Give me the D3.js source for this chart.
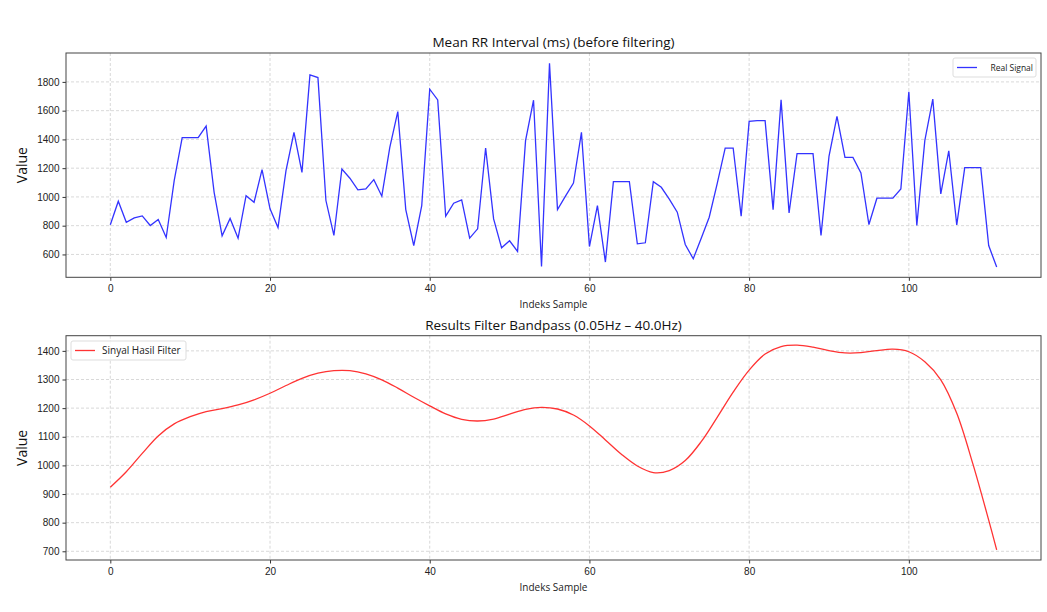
<!DOCTYPE html>
<html>
<head>
<meta charset="utf-8">
<script src="https://cdn.jsdelivr.net/npm/d3@7"></script>
<style>
  html, body { margin: 0; padding: 0; background: #fff; }
  svg { display: block; font-family: 'Open Sans', 'Noto Sans', sans-serif; }
  .grid line { stroke: #cfcfcf; stroke-dasharray: 3 2; stroke-width: 0.8; }
  .axis text { font-size: 10px; fill: #222; }
  .axis path, .axis line { stroke: #333; }
</style>
</head>
<body>
<svg id="chart" width="1047" height="612"></svg>
<script>
// raw mean RR intervals (ms), sample index 0..111
const rawValues = [
  806, 970, 824, 854, 868, 801, 843, 718, 1113, 1412,
  1412, 1412, 1493, 1032, 729, 850, 713, 1009, 963, 1190,
  917, 787, 1183, 1449, 1171, 1849, 1830, 975, 732, 1194,
  1130, 1049, 1056, 1120, 1005, 1345, 1594, 912, 662, 940,
  1749, 1675, 866, 956, 979, 713, 778, 1340, 847, 646,
  695, 621, 1391, 1673, 517, 1930, 912, 1005, 1097, 1449,
  655, 940, 547, 1106, 1106, 1106, 674, 681, 1106, 1067,
  984, 894, 669, 570, 713, 859, 1093, 1340, 1340, 866,
  1525, 1530, 1530, 912, 1675, 889, 1301, 1301, 1301, 732,
  1282, 1560, 1275, 1275, 1167, 808, 991, 991, 991, 1056,
  1731, 801, 1391, 1680, 1021, 1321, 806, 1204, 1204, 1204,
  662, 512
]

// bandpass output at these sample indices
const filtIndex = [0, 2, 4, 6, 8, 10, 12, 14, 16, 18, 20, 22, 24, 26, 28, 30, 32, 34, 36, 38,
  40, 42, 44, 46, 48, 50, 52, 54, 56, 58, 60, 62, 64, 66, 68, 70, 72, 74, 76, 78,
  80, 82, 84, 86, 88, 90, 92, 94, 96, 98, 100, 102, 104, 106, 108, 110, 111]
const filtValues = [924, 978, 1042, 1103, 1145, 1170, 1188, 1198, 1211, 1229, 1252, 1279, 1304, 1322, 1331, 1331, 1320, 1299, 1270, 1238,
  1208, 1180, 1161, 1155, 1162, 1179, 1196, 1203, 1197, 1176, 1138, 1089, 1039, 998, 975, 982, 1017, 1083, 1168, 1256,
  1333, 1389, 1415, 1420, 1413, 1401, 1393, 1394, 1401, 1406, 1397, 1362, 1299, 1182, 1007, 809, 705]

const xTicks = [0, 20, 40, 60, 80, 100]
const rawTicks = [600, 800, 1000, 1200, 1400, 1600, 1800]
const filtTicks = [700, 800, 900, 1000, 1100, 1200, 1300, 1400]

const svg = d3.select('#chart')
const left = 66
const right = 1041

function panel(opts) {
  const { top, bottom, domainY, ticks, title, data, color, legend, legendRight, curve } = opts
  const x = d3.scaleLinear().domain([-5.55, 116.55]).range([left, right])
  const y = d3.scaleLinear().domain(domainY).range([bottom, top])
  const g = svg.append('g')

  // grid
  const grid = g.append('g').attr('class', 'grid')
  grid.selectAll('.gx').data(xTicks).join('line').attr('class', 'gx')
    .attr('x1', (d) => x(d)).attr('x2', (d) => x(d)).attr('y1', top).attr('y2', bottom)
  grid.selectAll('.gy').data(ticks).join('line').attr('class', 'gy')
    .attr('x1', left).attr('x2', right).attr('y1', (d) => y(d)).attr('y2', (d) => y(d))

  // axes
  g.append('g').attr('class', 'axis').attr('transform', `translate(0,${bottom})`)
    .call(d3.axisBottom(x).tickValues(xTicks).tickFormat(d3.format('d')).tickSize(3.5).tickPadding(4))
    .call((a) => a.select('.domain').remove())
  g.append('g').attr('class', 'axis').attr('transform', `translate(${left},0)`)
    .call(d3.axisLeft(y).tickValues(ticks).tickFormat(d3.format('d')).tickSize(3.5).tickPadding(3))
    .call((a) => a.select('.domain').remove())

  // line
  const line = d3.line().x((d) => x(d[0])).y((d) => y(d[1])).curve(curve)
  g.append('path').datum(data).attr('fill', 'none').attr('stroke', color)
    .attr('stroke-width', 1.3).attr('d', line)

  // frame
  g.append('rect').attr('x', left).attr('y', top).attr('width', right - left).attr('height', bottom - top)
    .attr('fill', 'none').attr('stroke', '#444').attr('stroke-width', 1)

  // titles
  g.append('text').attr('x', (left + right) / 2).attr('y', top - 6).attr('text-anchor', 'middle')
    .attr('font-size', 13.5).attr('fill', '#111').text(title)
  g.append('text').attr('x', (left + right) / 2).attr('y', bottom + 31).attr('text-anchor', 'middle')
    .attr('font-size', 10).attr('fill', '#222').text('Indeks Sample')
  g.append('text').attr('transform', `translate(27,${(top + bottom) / 2}) rotate(-90)`)
    .attr('text-anchor', 'middle').attr('font-size', 14).attr('fill', '#111').text('Value')

  // legend
  const lg = g.append('g').attr('transform', `translate(${legend.x},${legend.y})`)
  lg.append('rect').attr('width', legend.w).attr('height', 19).attr('rx', 2)
    .attr('fill', '#fff').attr('fill-opacity', 0.85).attr('stroke', '#ddd')
  lg.append('line').attr('x1', 4).attr('x2', 24).attr('y1', 9.5).attr('y2', 9.5)
    .attr('stroke', color).attr('stroke-width', 1.3)
  lg.append('text').attr('x', legendRight ? legend.w - 3 : 31).attr('y', 13)
    .attr('text-anchor', legendRight ? 'end' : 'start')
    .attr('font-size', legend.fs).attr('fill', '#222').text(legend.label)
}

panel({
  top: 53, bottom: 277.3, domainY: [441, 2001], ticks: rawTicks,
  title: 'Mean RR Interval (ms) (before filtering)',
  data: rawValues.map((v, i) => [i, v]), color: '#3333ff', curve: d3.curveLinear,
  legend: { x: 953, y: 58, w: 83, label: 'Real Signal', fs: 8.5 }, legendRight: true
})

panel({
  top: 335.7, bottom: 560, domainY: [669.6, 1453], ticks: filtTicks,
  title: 'Results Filter Bandpass (0.05Hz – 40.0Hz)',
  data: filtIndex.map((d, i) => [d, filtValues[i]]), color: '#ff3333', curve: d3.curveCatmullRom,
  legend: { x: 71, y: 341, w: 115, label: 'Sinyal Hasil Filter', fs: 10 }, legendRight: false
})
</script>
</body>
</html>
